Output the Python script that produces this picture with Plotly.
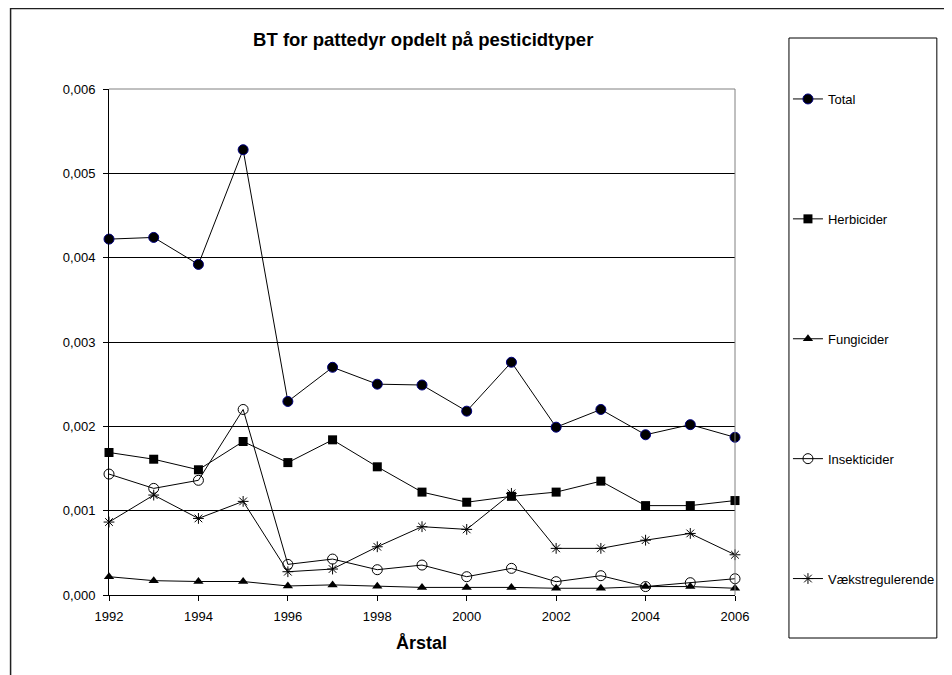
import plotly.graph_objects as go

years = list(range(1992, 2007))
total = [0.00422, 0.00424, 0.00392, 0.00528, 0.002295, 0.00270, 0.00250, 0.00249,
         0.00218, 0.00276, 0.00199, 0.00220, 0.00190, 0.00202, 0.00187]
herbicider = [0.00169, 0.00161, 0.001485, 0.00182, 0.00157, 0.00184, 0.00152, 0.00122,
              0.00110, 0.00117, 0.00122, 0.00135, 0.00106, 0.00106, 0.00112]
fungicider = [0.000217, 0.00017, 0.00016, 0.00016, 0.000107, 0.00012, 0.000105, 0.00009,
              0.00009, 0.00009, 0.00008, 0.00008, 0.0001, 0.0001, 0.00008]
insekticider = [0.001434, 0.001264, 0.00136, 0.00220, 0.000363, 0.000426, 0.00030, 0.000355,
                0.000217, 0.000316, 0.000158, 0.000229, 0.0001, 0.000146, 0.000193]
vaekst = [0.000865, 0.001185, 0.000908, 0.00111, 0.000276, 0.000308, 0.000572, 0.00081,
          0.000778, 0.001205, 0.000553, 0.000553, 0.00065, 0.00073, 0.000477]

series_names = ["Total", "Herbicider", "Fungicider", "Insekticider", "Vækstregulerende"]
x_ticks = [1992, 1994, 1996, 1998, 2000, 2002, 2004, 2006]
y_ticks = [0, 0.001, 0.002, 0.003, 0.004, 0.005, 0.006]

# the page body adds an 8px margin; work in page pixels and convert
OFF = 8
W, H = 952 - OFF, 675 - OFF
L, R, T, B = 108.5, 735, 89, 595  # plot area in page pixels


def px(x):
    return (x - L) / (R - L)


def py(y):
    return (B - y) / (B - T)


FONT = "Liberation Sans, Arial, sans-serif"

styles = [
    dict(symbol="circle", size=10, color="black", line=dict(color="#000080", width=1)),
    dict(symbol="square", size=9, color="black", line=dict(color="black", width=0)),
    dict(symbol="triangle-up", size=9, color="black", line=dict(color="black", width=0)),
    dict(symbol="circle-open", size=10, color="black", line=dict(color="black", width=1)),
    dict(symbol="asterisk-open", size=9, color="black", line=dict(color="black", width=1)),
]
data = [total, herbicider, fungicider, insekticider, vaekst]

fig = go.Figure()
for i, (name, vals, st) in enumerate(zip(series_names, data, styles)):
    fig.add_trace(go.Scatter(
        x=years, y=vals, name=name, mode="lines+markers",
        line=dict(color="black", width=1),
        marker=st, legendgroup=f"g{i}", cliponaxis=False,
    ))

shapes = [
    # outer chart frame (extends beyond the visible area)
    dict(type="rect", xref="paper", yref="paper",
         x0=px(10), x1=px(1000), y0=py(720), y1=py(8.5),
         line=dict(color="#202020", width=1.5), layer="below"),
    # plot area border (top/right gray)
    dict(type="line", xref="paper", yref="paper", x0=0, x1=1, y0=1, y1=1,
         line=dict(color="#808080", width=1)),
    dict(type="line", xref="paper", yref="paper", x0=1, x1=1, y0=0, y1=1,
         line=dict(color="#808080", width=1)),
    # legend box
    dict(type="rect", xref="paper", yref="paper",
         x0=px(789), x1=px(937), y0=py(638), y1=py(38),
         line=dict(color="black", width=1)),
]

fig.update_layout(
    width=W, height=H,
    margin=dict(l=L - OFF, r=W - (R - OFF), t=T - OFF, b=H - (B - OFF), pad=0),
    paper_bgcolor="white", plot_bgcolor="white",
    font=dict(family=FONT, size=13, color="black"),
    separators=", ",
    title=dict(text="<b>BT for pattedyr opdelt på pesticidtyper</b>",
               font=dict(size=18.5, family=FONT, color="black"),
               x=px(423), xanchor="center", y=1 - (40 - OFF) / H, yanchor="middle",
               xref="paper", yref="container"),
    xaxis=dict(range=[1992, 2006], tickvals=x_ticks, ticks="outside", ticklen=5,
               tickcolor="black", showgrid=False, zeroline=False, showline=True,
               linecolor="black", linewidth=1, ticklabelstandoff=4,
               tickfont=dict(size=13)),
    yaxis=dict(range=[0, 0.006], tickvals=y_ticks, tickformat=".3f", ticks="outside",
               ticklen=5, tickcolor="black", showgrid=True, gridcolor="black",
               gridwidth=1, zeroline=False, showline=True, linecolor="black",
               linewidth=1, ticklabelstandoff=5, tickfont=dict(size=13)),
    showlegend=True,
    legend=dict(x=px(788), xanchor="left", y=py(84), yanchor="top",
                traceorder="grouped", tracegroupgap=100, maxheight=1,
                bgcolor="rgba(0,0,0,0)", borderwidth=0,
                font=dict(size=13, family=FONT)),
    shapes=shapes,
    annotations=[dict(text="<b>Årstal</b>", xref="paper", yref="paper",
                      x=px(421), y=py(643), xanchor="center", yanchor="middle",
                      showarrow=False, font=dict(size=18, family=FONT))],
)

fig.write_html("out.html")
